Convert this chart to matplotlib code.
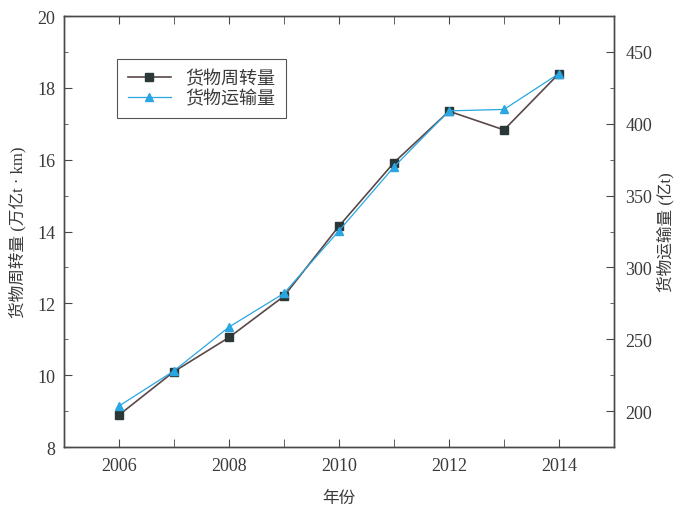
import matplotlib
matplotlib.use("Agg")
import matplotlib.pyplot as plt
from matplotlib.ticker import MultipleLocator

# ─── DATA ─────────────────────────────────────────────────────
years      = [2006, 2007, 2008, 2009, 2010, 2011, 2012, 2013, 2014]
turnover   = [8.89, 10.10, 11.05, 12.20, 14.15, 15.92, 17.35, 16.83, 18.40]   # 万亿t·km
transport  = [203.5, 228, 258.5, 282, 325.5, 370, 409, 410, 435]            # 亿t
# ──────────────────────────────────────────────────────────────

plt.rcParams['font.family'] = ['Liberation Serif', 'Noto Sans CJK SC']
plt.rcParams['axes.unicode_minus'] = False

TEXT = "#3a3a3a"
SPINE = "#4a4a4a"

fig = plt.figure(figsize=(6.8, 5.06), dpi=100)
ax = fig.add_axes([0.094, 0.1146, 0.809, 0.8517])
ax2 = ax.twinx()

l1, = ax.plot(years, turnover, color="#5a4848", linewidth=1.2,
              marker="s", markersize=6, markerfacecolor="#2c3838",
              markeredgecolor="#2c3838", label="货物周转量", zorder=3)
l2, = ax2.plot(years, transport, color="#2aa6e2", linewidth=0.9,
               marker="^", markersize=5.5, markerfacecolor="#2aa6e2",
               markeredgecolor="#2aa6e2", label="货物运输量", zorder=2)

ax.set_xlim(2005, 2015)
ax.set_ylim(8, 20)
ax2.set_ylim(175, 475)

ax.xaxis.set_major_locator(MultipleLocator(2))
ax.xaxis.set_minor_locator(MultipleLocator(1))
ax.yaxis.set_major_locator(MultipleLocator(2))
ax.yaxis.set_minor_locator(MultipleLocator(1))
ax2.yaxis.set_minor_locator(MultipleLocator(25))
ax2.set_yticks([200, 250, 300, 350, 400, 450])

ax.tick_params(axis="x", which="both", direction="in", top=True, labelsize=13,
               colors=SPINE, labelcolor=TEXT, pad=7, length=6)
ax.tick_params(axis="y", which="major", direction="in", length=6, labelsize=13,
               colors=SPINE, labelcolor=TEXT, pad=6)
ax.tick_params(axis="y", which="minor", direction="in", length=3, colors=SPINE)
ax2.tick_params(axis="y", which="major", direction="in", length=6, labelsize=13,
                colors=SPINE, labelcolor=TEXT, pad=8)
ax2.tick_params(axis="y", which="minor", direction="in", length=3, colors=SPINE)

for a in (ax, ax2):
    for s in a.spines.values():
        s.set_color(SPINE)
        s.set_linewidth(1.0)

ax.set_ylabel("货物周转量 (万亿t · km)", fontsize=12, color=TEXT, labelpad=8)
ax2.set_ylabel("货物运输量 (亿t)", fontsize=12, color=TEXT, labelpad=3)
ax.set_xlabel("年份", fontsize=12, color=TEXT, labelpad=12)

leg = ax.legend([l1, l2], ["货物周转量", "货物运输量"], loc="upper left",
                bbox_to_anchor=(0.096, 0.9), borderaxespad=0, fontsize=13,
                fancybox=False, framealpha=1, edgecolor="#555555",
                handlelength=2.4, handletextpad=0.8, borderpad=0.6,
                labelspacing=0.15, labelcolor=TEXT)
leg.get_frame().set_linewidth(0.8)

fig.savefig("out.png", dpi=100)
